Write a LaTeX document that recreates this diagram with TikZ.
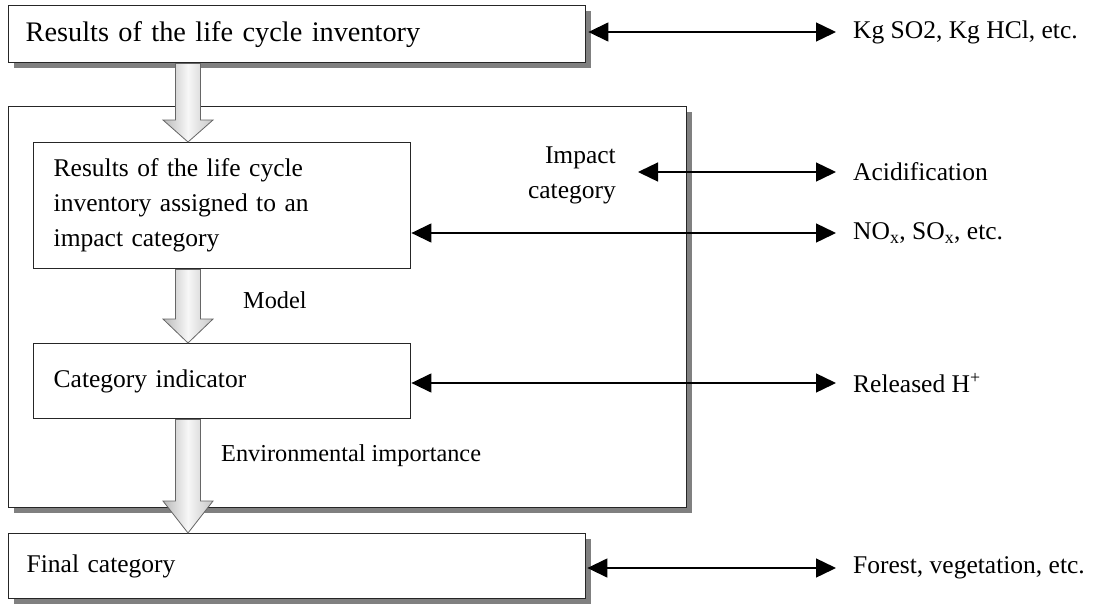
\documentclass[tikz,border=0pt]{standalone}
\usepackage{fontspec}
\setmainfont{Liberation Serif}
\usetikzlibrary{arrows.meta,shadows,calc}
\newcommand{\blockarrow}[3]{%
  \shade[blockar] let \p1=(#1), \p2=(#2) in
  (\x1-12.5pt,\y1) -- (\x1+12.5pt,\y1) -- (\x1+12.5pt,\y2+#3) -- (\x1+25pt,\y2+#3)
  -- (\x1,\y2) -- (\x1-25pt,\y2+#3) -- (\x1-12.5pt,\y2+#3) -- cycle;}
\begin{document}
\begin{tikzpicture}[x=1pt,y=-1pt,
  box/.style={draw=black!85, line width=1.4pt, fill=white, inner ysep=0pt},
  shbox/.style={box, drop shadow={shadow xshift=5pt, shadow yshift=-5pt, fill=black!50, opacity=1}},
  bigtxt/.style={font=\fontsize{28.3}{34}\selectfont},
  txt/.style={font=\fontsize{25.5}{35}\selectfont},
  smtxt/.style={font=\fontsize{24.3}{30}\selectfont, inner sep=0pt},
  lbl/.style={txt, inner sep=0pt},
  dbl/.style={line width=1.4pt, {Triangle[length=20pt,width=19pt]}-{Triangle[length=20pt,width=19pt]}},
  blockar/.style={left color=gray!55, right color=gray!45, middle color=gray!6, draw=black!60, line width=0.8pt}
  ]
\useasboundingbox (0,0) rectangle (1101,603);
\coordinate (ax) at (188,0);

% boxes
\node[shbox, anchor=north west, minimum width=577, minimum height=57,
      text width=543, inner xsep=17, align=left, bigtxt] (top) at (8,5)
      {Results of the life cycle inventory};
\node[shbox, anchor=north west, minimum width=678, minimum height=401] (outer) at (8,106) {};
\node[box, anchor=north west, minimum width=377, minimum height=126,
      text width=337, inner xsep=20, align=left, txt] (ib1) at (33,142)
      {Results of the life cycle\\inventory assigned to an\\impact category};
\node[box, anchor=north west, minimum width=377, minimum height=75,
      text width=337, inner xsep=20, align=left, txt] (ib2) at (33,343)
      {Category indicator};
\node[shbox, anchor=north west, minimum width=577, minimum height=65,
      text width=541, inner xsep=18, align=left, txt] (fin) at (8,533)
      {Final category};

% labels inside
\node[smtxt, anchor=west] (model) at (243,300) {Model};
\node[smtxt, anchor=west] (env) at (221,456) {Environmental importance};
\node[lbl, anchor=east, align=right] (impact) at (616,175) {Impact\\category};

% right-side labels
\node[lbl, anchor=west] (kg) at (853,32) {Kg SO2, Kg HCl, etc.};
\node[lbl, anchor=west] (acid) at (853,172) {Acidification};
\node[lbl, anchor=west] (nox) at (853,233) {NO\textsubscript{x}, SO\textsubscript{x}, etc.};
\node[lbl, anchor=west] (rel) at (853,383) {Released H\textsuperscript{+}};
\node[lbl, anchor=west] (forest) at (853,568) {Forest, vegetation, etc.};

% block arrows
\blockarrow{top.south -| ax}{ib1.north -| ax}{22pt}
\blockarrow{ib1.south -| ax}{ib2.north -| ax}{24pt}
\blockarrow{ib2.south -| ax}{fin.north -| ax}{32pt}

% double arrows
\draw[dbl, shorten <=2pt, shorten >=17pt] (kg.west -| top.east) -- (kg.west);
\draw[dbl, shorten <=22pt, shorten >=17pt] (acid.west -| impact.east) -- (acid.west);
\draw[dbl, shorten >=17pt] (nox.west -| ib1.east) -- (nox.west);
\draw[dbl, shorten >=17pt] (rel.west -| ib2.east) -- (rel.west);
\draw[dbl, shorten <=1pt, shorten >=17pt] (forest.west -| fin.east) -- (forest.west);
\end{tikzpicture}
\end{document}
